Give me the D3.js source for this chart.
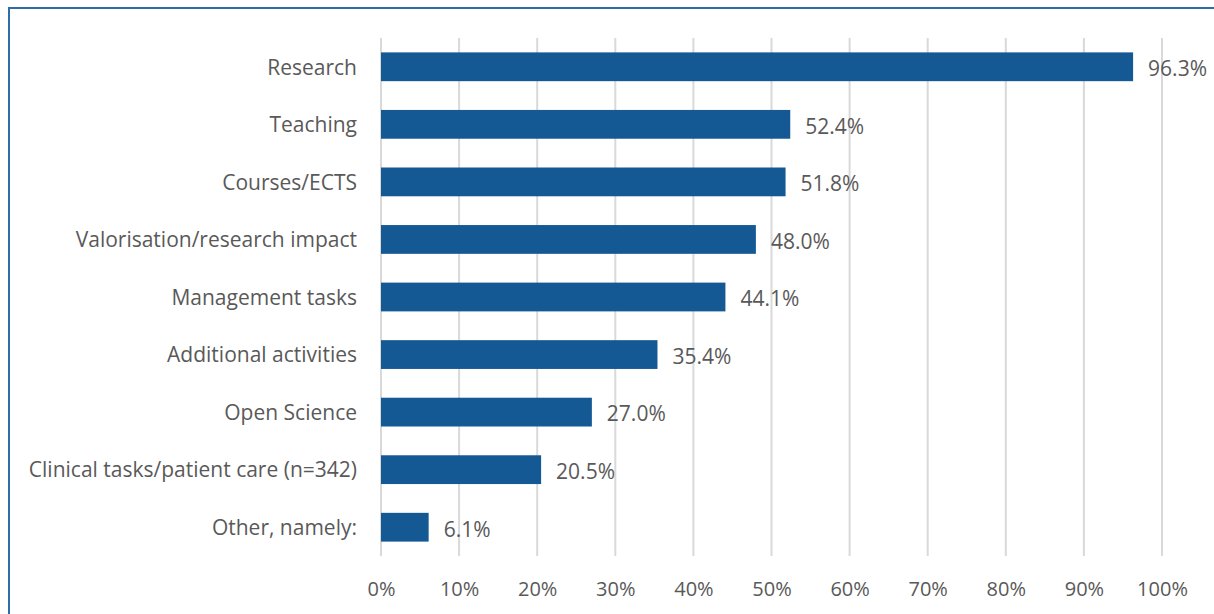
<!DOCTYPE html>
<html>
<head>
<meta charset="utf-8">
<script src="https://cdn.jsdelivr.net/npm/d3@7"></script>
<style>
  html, body { margin: 0; padding: 0; background: #fff; }
  svg { display: block; }
  text { font-family: "Open Sans", "Noto Sans", sans-serif; fill: #595959; }
</style>
</head>
<body>
<svg id="chart" width="1214" height="614"></svg>
<script>
const categories = [
  "Research",
  "Teaching",
  "Courses/ECTS",
  "Valorisation/research impact",
  "Management tasks",
  "Additional activities",
  "Open Science",
  "Clinical tasks/patient care (n=342)",
  "Other, namely:"
];
const values = [96.3, 52.4, 51.8, 48.0, 44.1, 35.4, 27.0, 20.5, 6.1];
const tickValues = [0, 10, 20, 30, 40, 50, 60, 70, 80, 90, 100];

const svg = d3.select("#chart");
const W = 1214, H = 614;

// Frame around the chart area
svg.append("rect")
  .attr("x", 9).attr("y", 8)
  .attr("width", W - 9 + 5).attr("height", H)
  .attr("fill", "none")
  .attr("stroke", "#2f6ca8")
  .attr("stroke-width", 2);

const plotLeft = 381, plotRight = 1162, plotTop = 38, plotBottom = 556;

const x = d3.scaleLinear().domain([0, 100]).range([plotLeft, plotRight]);
const y = d3.scaleBand().domain(categories).range([plotTop, plotBottom]).paddingInner(0.5).paddingOuter(0.25);

// Vertical gridlines
svg.append("g")
  .selectAll("line")
  .data(tickValues)
  .join("line")
  .attr("x1", d => x(d)).attr("x2", d => x(d))
  .attr("y1", plotTop).attr("y2", plotBottom)
  .attr("stroke", "#d9d9d9")
  .attr("stroke-width", 2);

// X axis labels
const xAxis = d3.axisBottom(x).tickValues(tickValues).tickFormat(d => d + "%").tickSize(0).tickPadding(0);
const gx = svg.append("g").attr("transform", `translate(0, ${plotBottom + 26})`).call(xAxis);
gx.select(".domain").remove();
gx.selectAll("text")
  .attr("dy", "0.71em")
  .style("font-size", "20px")
  .attr("fill", "#595959");

// Category labels
const yAxis = d3.axisLeft(y).tickSize(0).tickPadding(0);
const gy = svg.append("g").attr("transform", `translate(${plotLeft - 24}, 1)`).call(yAxis);
gy.select(".domain").remove();
gy.selectAll("text")
  .style("font-size", "21px")
  .attr("fill", "#595959");

// Bars
svg.append("g")
  .selectAll("rect")
  .data(values)
  .join("rect")
  .attr("x", x(0))
  .attr("y", (d, i) => y(categories[i]))
  .attr("width", d => x(d) - x(0))
  .attr("height", y.bandwidth())
  .attr("fill", "#145894");

// Value labels
svg.append("g")
  .selectAll("text")
  .data(values)
  .join("text")
  .attr("x", d => x(d) + 15)
  .attr("y", (d, i) => y(categories[i]) + y.bandwidth() / 2 + 2)
  .attr("dy", "0.35em")
  .style("font-size", "21px")
  .attr("fill", "#404040")
  .text(d => d.toFixed(1) + "%");
</script>
</body>
</html>
